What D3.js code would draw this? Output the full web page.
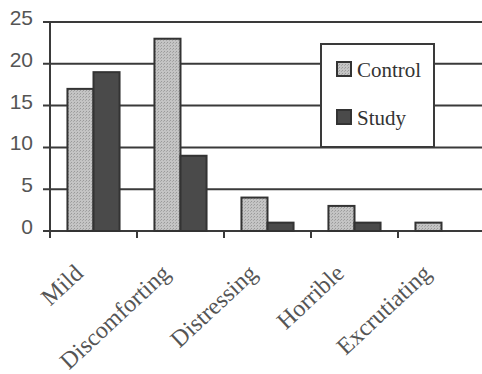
<!DOCTYPE html>
<html>
<head>
<meta charset="utf-8">
<script src="https://cdnjs.cloudflare.com/ajax/libs/d3/7.8.5/d3.min.js"></script>
<style>
html,body{margin:0;padding:0;background:#fff;}
svg{display:block;}
</style>
</head>
<body>
<div id="chart"></div>
<script>
const categories = ["Mild", "Discomforting", "Distressing", "Horrible", "Excrutiating"];
const seriesNames = ["Control", "Study"];
const controlValues = [17, 23, 4, 3, 1];
const studyValues = [19, 9, 1, 1, 0];
const yTicks = [0, 5, 10, 15, 20, 25];

const W = 482, H = 374;
const svg = d3.select("#chart").append("svg").attr("width", W).attr("height", H);

const defs = svg.append("defs");
const pat = defs.append("pattern").attr("id", "stip").attr("patternUnits", "userSpaceOnUse")
  .attr("width", 3).attr("height", 3);
pat.append("rect").attr("width", 3).attr("height", 3).attr("fill", "#c4c4c4");
pat.append("rect").attr("x", 0).attr("y", 0).attr("width", 1).attr("height", 1).attr("fill", "#9a9a9a");
pat.append("rect").attr("x", 2).attr("y", 1).attr("width", 1).attr("height", 1).attr("fill", "#a8a8a8");

const mL = 50, mR = 485, mT = 22, mB = 231;
const x = d3.scaleBand().domain(categories).range([mL, mR]).padding(0);
const x1 = d3.scaleBand().domain(seriesNames).range([0, x.bandwidth()]).paddingInner(0).paddingOuter(0.67);
const y = d3.scaleLinear().domain([0, 25]).range([mB, mT]);

const lineCol = "#3a3a3a";

// gridlines
svg.append("g").selectAll("line").data(yTicks).join("line")
  .attr("x1", mL - 7).attr("x2", W)
  .attr("y1", d => y(d)).attr("y2", d => y(d))
  .attr("stroke", lineCol).attr("stroke-width", 2);

// y axis line
svg.append("line").attr("x1", mL).attr("x2", mL).attr("y1", mT).attr("y2", mB + 7)
  .attr("stroke", lineCol).attr("stroke-width", 2);

// x ticks
svg.append("g").selectAll("line").data(categories).join("line")
  .attr("x1", d => x(d)).attr("x2", d => x(d))
  .attr("y1", mB).attr("y2", mB + 7)
  .attr("stroke", lineCol).attr("stroke-width", 2);

// y labels
svg.append("g").selectAll("text").data(yTicks).join("text")
  .attr("x", 33).attr("y", d => y(d) + 3)
  .attr("text-anchor", "end")
  .attr("font-family", "Liberation Sans, Arial, sans-serif")
  .attr("font-size", 21).attr("fill", "#555")
  .text(d => d);

// bars
const rows = categories.map((c, i) => ({cat: c, vals: [
  {s: "Control", v: controlValues[i]}, {s: "Study", v: studyValues[i]}]}));
const fills = {Control: "url(#stip)", Study: "#4a4a4a"};
const g = svg.append("g").selectAll("g").data(rows).join("g")
  .attr("transform", d => `translate(${x(d.cat)},0)`);
g.selectAll("rect").data(d => d.vals.filter(v => v.v > 0)).join("rect")
  .attr("x", d => x1(d.s)).attr("width", x1.bandwidth())
  .attr("y", d => y(d.v)).attr("height", d => mB - y(d.v))
  .attr("fill", d => fills[d.s]).attr("stroke", "#333").attr("stroke-width", 2);

// x labels
svg.append("g").selectAll("text").data(categories).join("text")
  .attr("transform", d => `translate(${x(d) + x.bandwidth() / 2 - 9},275) rotate(-43)`)
  .attr("text-anchor", "end")
  .attr("font-family", "Liberation Serif, Times New Roman, serif")
  .attr("font-size", 24).attr("fill", "#555")
  .text(d => d);

// legend
const lg = svg.append("g");
lg.append("rect").attr("x", 321).attr("y", 44).attr("width", 113).attr("height", 103)
  .attr("fill", "#fff").attr("stroke", lineCol).attr("stroke-width", 2);
const li = lg.selectAll("g").data(seriesNames).join("g")
  .attr("transform", (d, i) => `translate(336,${61 + i * 48})`);
li.append("rect").attr("x", 1).attr("y", 1).attr("width", 14).attr("height", 14)
  .attr("fill", d => fills[d]).attr("stroke", "#333").attr("stroke-width", 2);
li.append("text").attr("x", 21).attr("y", 16)
  .attr("font-family", "Liberation Serif, Times New Roman, serif")
  .attr("font-size", 21).attr("fill", "#333")
  .text(d => d);
</script>
</body>
</html>
